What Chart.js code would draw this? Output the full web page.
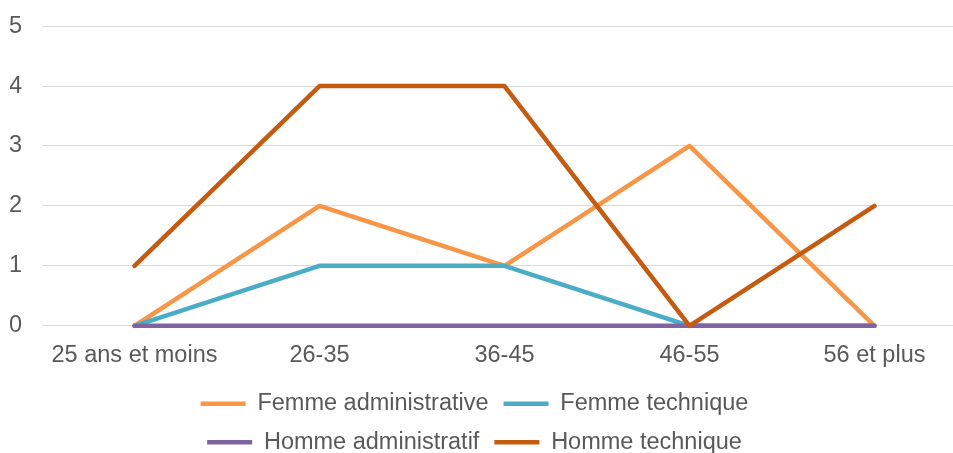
<!DOCTYPE html>
<html lang="fr">
<head>
<meta charset="utf-8">
<title>Répartition par âge</title>
<script src="https://cdn.jsdelivr.net/npm/chart.js@4.4.1/dist/chart.umd.min.js"></script>
<style>
  html, body { margin: 0; padding: 0; background: #ffffff; overflow: hidden; }
  #wrap { width: 953px; height: 453px; overflow: hidden; }
  canvas { display: block; margin-top: -8px; }
</style>
</head>
<body>
<div id="wrap"><canvas id="chart" width="970" height="472"></canvas></div>
<script>
// Tranches d'âge (axe des catégories)
const categories = ['25 ans et moins', '26-35', '36-45', '46-55', '56 et plus'];

// Effectifs par tranche d'âge
const femmeAdministrative = [0, 2, 1, 3, 0];
const femmeTechnique      = [0, 1, 1, 0, 0];
const hommeAdministratif  = [0, 0, 0, 0, 0];
const hommeTechnique      = [1, 4, 4, 0, 2];

// Graduations de l'axe vertical
const yTicks = [0, 1, 2, 3, 4, 5];

const seriesNames = ['Femme administrative', 'Femme technique', 'Homme administratif', 'Homme technique'];
const seriesValues = [femmeAdministrative, femmeTechnique, hommeAdministratif, hommeTechnique];
const seriesColors = ['#F79646', '#4BACC6', '#8064A2', '#C55A11'];

const FONT = { family: '"Liberation Sans", Arial, sans-serif', size: 23.5 };
const TEXT = '#595959';

// Légende sur deux lignes de deux entrées, recentrée sous le graphique
const legendRows = {
  id: 'legendRows',
  beforeUpdate(chart) {
    const lg = chart.legend;
    if (lg && !lg._twoPerRow) {
      const fitRows = lg._fitRows;
      lg._fitRows = function (...args) {
        const full = this.maxWidth;
        this.maxWidth = 640;
        const h = fitRows.apply(this, args);
        this.maxWidth = full;
        return h;
      };
      lg._twoPerRow = true;
    }
  },
  afterLayout(chart) {
    const lg = chart.legend;
    if (lg) { lg.left -= 14; lg.right -= 14; }
  }
};

const datasets = seriesNames.map((name, i) => ({
  label: name,
  data: seriesValues[i],
  borderColor: seriesColors[i],
  backgroundColor: seriesColors[i],
  borderWidth: 4.5,
  borderCapStyle: 'round',
  borderJoinStyle: 'round',
  pointRadius: 0,
  pointHoverRadius: 0,
  tension: 0,
  fill: false,
  clip: false,
  order: seriesNames.length - 1 - i
}));

new Chart(document.getElementById('chart'), {
  type: 'line',
  data: { labels: categories, datasets },
  options: {
    responsive: false,
    devicePixelRatio: 1,
    animation: false,
    layout: { padding: { left: 10, right: 3, top: 19, bottom: 0 } },
    plugins: {
      tooltip: { enabled: false },
      legend: {
        position: 'bottom',
        labels: {
          usePointStyle: true,
          pointStyle: 'line',
          pointStyleWidth: 45,
          padding: 15,
          color: TEXT,
          font: FONT,
          sort: (a, b) => a.datasetIndex - b.datasetIndex
        }
      }
    },
    scales: {
      x: {
        offset: true,
        grid: { display: false, drawTicks: false, offset: true },
        border: { display: false },
        ticks: { color: TEXT, font: FONT, padding: 16, maxRotation: 0, autoSkip: false },
        afterFit(scale) { scale.height -= 9; }
      },
      y: {
        min: 0,
        max: 5,
        afterBuildTicks(scale) { scale.ticks = yTicks.map(v => ({ value: v })); },
        grid: { color: '#D9D9D9', lineWidth: 1, drawTicks: false },
        border: { display: false },
        ticks: { color: TEXT, font: FONT, padding: 20 },
        afterFit(scale) { scale.width = 32; }
      }
    }
  },
  plugins: [legendRows]
});
</script>
</body>
</html>
